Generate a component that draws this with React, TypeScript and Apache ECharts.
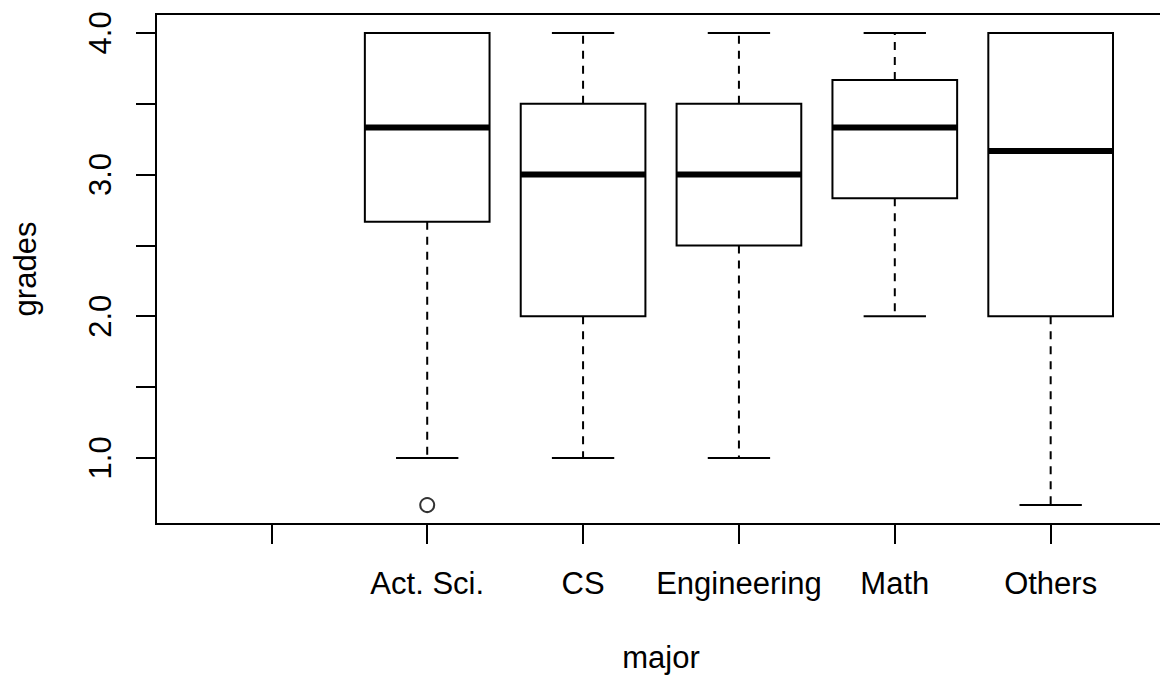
import React, { useEffect, useRef } from "react";
import * as echarts from "echarts";

const categories = ["", "Act. Sci.", "CS", "Engineering", "Math", "Others"];
const lowerWhisker = [null, 1.0, 1.0, 1.0, 2.0, 0.667];
const lowerQuartile = [null, 2.667, 2.0, 2.5, 2.833, 2.0];
const medians = [null, 3.333, 3.0, 3.0, 3.333, 3.167];
const upperQuartile = [null, 4.0, 3.5, 3.5, 3.667, 4.0];
const upperWhisker = [null, 4.0, 4.0, 4.0, 4.0, 4.0];
const outlierMajors = ["Act. Sci."];
const outlierGrades = [0.667];
const xTickValues = [1, 2, 3, 4, 5, 6];
const yTickValues = [1.0, 1.5, 2.0, 2.5, 3.0, 3.5, 4.0];
const yLabelValues = [1.0, 2.0, 3.0, 4.0];

const FONT = "'Liberation Sans', Arial, Helvetica, sans-serif";
const FS = 31;

export default function App() {
  const ref = useRef<HTMLDivElement>(null);
  useEffect(() => {
    if (!ref.current) return;
    const chart = echarts.init(ref.current, null, { renderer: "svg" });

    const boxData: number[][] = [];
    categories.forEach((c, i) => {
      if (medians[i] == null) return;
      boxData.push([
        i + 1,
        lowerWhisker[i] as number,
        lowerQuartile[i] as number,
        medians[i] as number,
        upperQuartile[i] as number,
        upperWhisker[i] as number,
      ]);
    });
    const outlierData = outlierMajors.map((m, i) => [categories.indexOf(m) + 1, outlierGrades[i]]);

    const black = "#000";
    const option: any = {
      animation: false,
      backgroundColor: "#fff",
      textStyle: { fontFamily: FONT },
      grid: {
        left: 156,
        top: 14,
        right: -6,
        bottom: 153,
        show: true,
        borderColor: black,
        borderWidth: 2,
        backgroundColor: "transparent",
        containLabel: false,
        outerBoundsMode: "none",
      },
      xAxis: {
        type: "value",
        min: 0.26,
        max: 6.74,
        name: "major",
        nameLocation: "middle",
        nameGap: 118,
        nameTextStyle: { fontSize: FS, color: black, fontFamily: FONT, lineHeight: FS },
        axisLine: { show: false },
        splitLine: { show: false },
        axisTick: {
          show: true,
          length: 20,
          inside: false,
          customValues: xTickValues,
          lineStyle: { color: black, width: 2 },
        },
        axisLabel: {
          show: true,
          customValues: xTickValues,
          formatter: (v: number) => categories[Math.round(v) - 1] ?? "",
          fontSize: FS,
          lineHeight: FS,
          color: black,
          fontFamily: FONT,
          margin: 44,
          verticalAlign: "top",
        },
      },
      yAxis: {
        type: "value",
        min: 0.5333,
        max: 4.1333,
        name: "grades",
        nameLocation: "middle",
        nameGap: 115,
        nameRotate: 90,
        nameTextStyle: { fontSize: FS, color: black, fontFamily: FONT, lineHeight: FS },
        axisLine: { show: false },
        splitLine: { show: false },
        axisTick: {
          show: true,
          length: 20,
          inside: false,
          customValues: yTickValues,
          lineStyle: { color: black, width: 2 },
        },
        axisLabel: {
          show: true,
          customValues: yLabelValues,
          formatter: (v: number) => v.toFixed(1),
          rotate: 90,
          fontSize: FS,
          lineHeight: FS,
          color: black,
          fontFamily: FONT,
          margin: 40,
          align: "center",
          verticalAlign: "bottom",
        },
      },
      series: [
        {
          type: "custom",
          data: boxData,
          encode: { x: 0, y: [1, 2, 3, 4, 5] },
          renderItem: (params: any, api: any) => {
            const x = api.value(0);
            const lw = api.value(1);
            const q1 = api.value(2);
            const md = api.value(3);
            const q3 = api.value(4);
            const uw = api.value(5);
            const pMd = api.coord([x, md]);
            const cx = pMd[0];
            const yMd = pMd[1];
            const yLw = api.coord([x, lw])[1];
            const yQ1 = api.coord([x, q1])[1];
            const yQ3 = api.coord([x, q3])[1];
            const yUw = api.coord([x, uw])[1];
            const halfBox = (api.coord([x + 0.4, md])[0] - api.coord([x - 0.4, md])[0]) / 2;
            const halfCap = halfBox / 2;
            const lineStyle = { stroke: black, lineWidth: 2, fill: null };
            const dashStyle = { stroke: black, lineWidth: 2, lineDash: [8, 7], fill: null };
            return {
              type: "group",
              children: [
                { type: "line", shape: { x1: cx, y1: yQ3, x2: cx, y2: yUw }, style: dashStyle },
                { type: "line", shape: { x1: cx, y1: yQ1, x2: cx, y2: yLw }, style: dashStyle },
                { type: "line", shape: { x1: cx - halfCap, y1: yUw, x2: cx + halfCap, y2: yUw }, style: lineStyle },
                { type: "line", shape: { x1: cx - halfCap, y1: yLw, x2: cx + halfCap, y2: yLw }, style: lineStyle },
                {
                  type: "rect",
                  shape: { x: cx - halfBox, y: yQ3, width: halfBox * 2, height: yQ1 - yQ3 },
                  style: { stroke: black, lineWidth: 2, fill: "transparent" },
                },
                {
                  type: "line",
                  shape: { x1: cx - halfBox, y1: yMd, x2: cx + halfBox, y2: yMd },
                  style: { stroke: black, lineWidth: 6, fill: null },
                },
              ],
            };
          },
          z: 2,
        },
        {
          type: "scatter",
          data: outlierData,
          symbol: "circle",
          symbolSize: 14,
          itemStyle: { color: "#fff", borderColor: black, borderWidth: 2 },
          z: 3,
        },
      ],
    };
    chart.setOption(option);
    return () => chart.dispose();
  }, []);
  return (
    <div
      ref={ref}
      style={{ position: "absolute", left: 0, top: 0, width: 1160, height: 677, background: "#fff" }}
    />
  );
}
